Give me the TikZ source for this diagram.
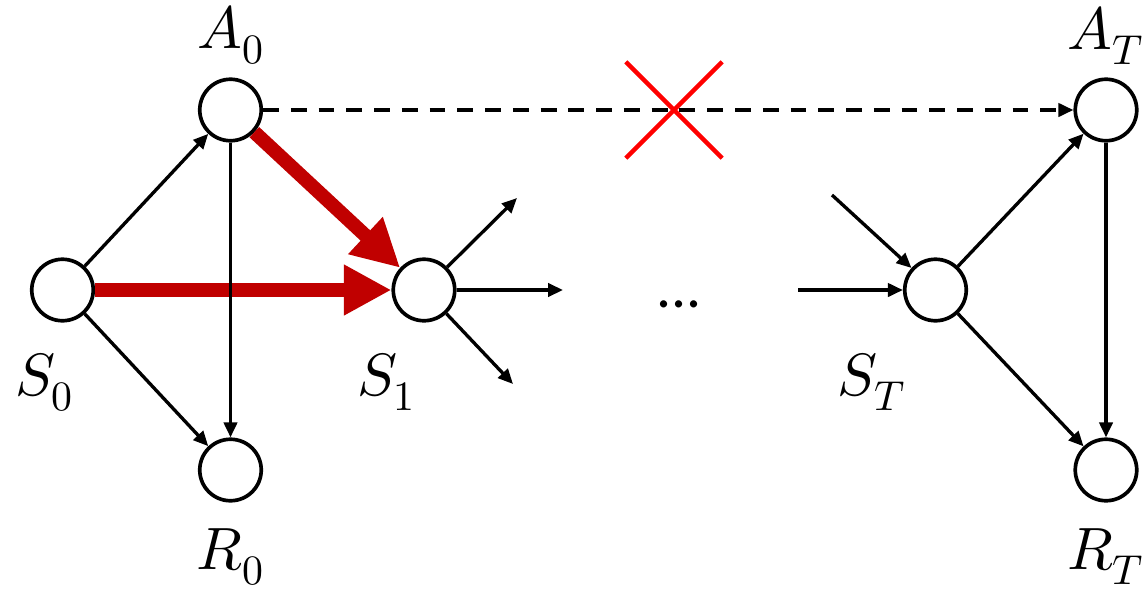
\documentclass[tikz,border=0pt]{standalone}
\usepackage{unicode-math}
\usepackage{xcolor}
\usetikzlibrary{arrows.meta,positioning,shapes.misc}
\newfontfamily\dotsfont{Carlito}
\definecolor{hotred}{RGB}{192,0,0}

\begin{document}
\begin{tikzpicture}[x=0.02cm,y=-0.02cm,
    state/.style={circle,draw,line width=2.1pt,minimum size=1.23cm,inner sep=0pt},
    lbl/.style={inner sep=0pt,font=\fontsize{34}{40}\selectfont},
    link/.style={line width=1.9pt,-{Triangle[length=8.5pt,width=7.5pt]}},
    hot/.style={draw=hotred,line width=8pt,-{Triangle[length=27pt,width=27pt]}},
    cut/.style={cross out,draw=red,line width=2.5pt,minimum size=1.84cm,inner sep=0pt}]
  \useasboundingbox (0,0) rectangle (1143,592);

  % first step
  \node[state] (s0) at (62.5,290) {};
  \node[state] (a0) at (230.5,110) {};
  \node[state] (r0) at (230.5,470) {};
  \node[state] (s1) at (424,290) {};
  % last step
  \node[state] (st) at (935.5,290) {};
  \node[state] (at) at (1106,110) {};
  \node[state] (rt) at (1106,470) {};

  \node[lbl, above=0.25cm of a0] {$A_0$};
  \node[lbl, below=0.52cm of r0] {$R_0$};
  \node[lbl, below=0.61cm of s0, xshift=-0.36cm] {$S_0$};
  \node[lbl, below=0.61cm of s1, xshift=-0.75cm] {$S_1$};
  \node[lbl, below=0.61cm of st, xshift=-1.27cm] {$S_T$};
  \node[lbl, above=0.25cm of at] {$A_T$};
  \node[lbl, below=0.52cm of rt] {$R_T$};

  % loose ends
  \coordinate (o1) at (517,198);
  \coordinate (o2) at (563,290);
  \coordinate (o3) at (513,384);
  \coordinate (i1) at (832,195);
  \coordinate (i2) at (798,290);

  \draw[hot] (s0) -- (s1);
  \draw[hot] (a0) -- (s1);

  \draw[link] (s0) -- (a0);
  \draw[link] (s0) -- (r0);
  \draw[link] (a0) -- (r0);
  \draw[link] (s1) -- (o1);
  \draw[link] (s1) -- (o2);
  \draw[link] (s1) -- (o3);
  \draw[link] (i1) -- (st);
  \draw[link] (i2) -- (st);
  \draw[link] (st) -- (at);
  \draw[link] (st) -- (rt);
  \draw[link] (at) -- (rt);
  \draw[link, dash pattern=on 9pt off 6.8pt] (a0) -- (at);

  \node[cut] (x) at (674,110) {};
  \node[anchor=base, inner sep=0pt, font=\dotsfont\fontsize{34}{40}\selectfont] (dots) at (679,307) {...};
\end{tikzpicture}
\end{document}
